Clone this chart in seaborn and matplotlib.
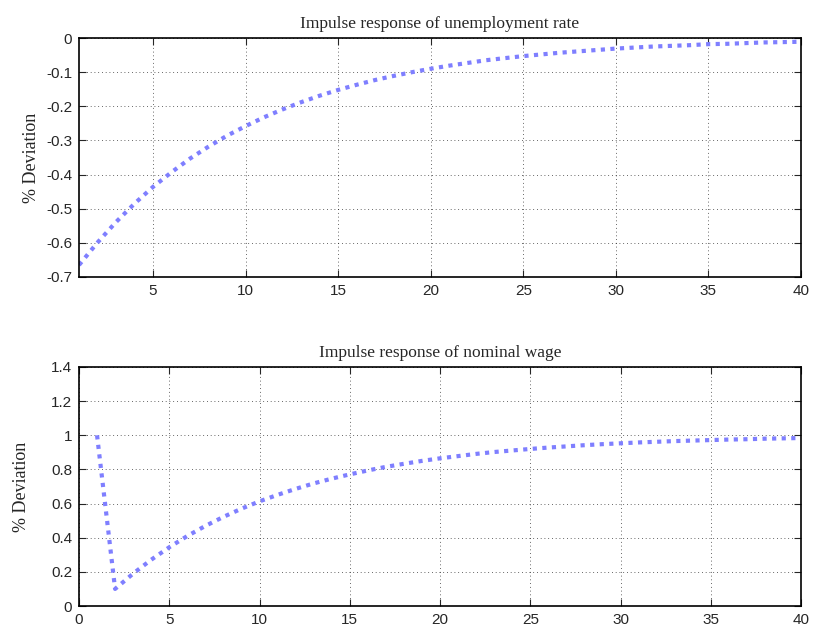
import matplotlib
matplotlib.use("Agg")
import matplotlib.pyplot as plt
import seaborn as sns
import pandas as pd

periods = list(range(1, 41))

unemployment = [
    -0.665, -0.599, -0.539, -0.485, -0.436, -0.393, -0.353, -0.318, -0.286, -0.258,
    -0.232, -0.209, -0.188, -0.169, -0.152, -0.137, -0.123, -0.111, -0.100, -0.090,
    -0.081, -0.073, -0.065, -0.059, -0.053, -0.048, -0.043, -0.039, -0.035, -0.031,
    -0.028, -0.025, -0.023, -0.021, -0.018, -0.017, -0.015, -0.013, -0.012, -0.011,
]

nominal_wage = [
    1.000, 0.100, 0.190, 0.271, 0.344, 0.410, 0.469, 0.522, 0.570, 0.613,
    0.651, 0.686, 0.718, 0.746, 0.771, 0.794, 0.815, 0.833, 0.850, 0.865,
    0.878, 0.891, 0.902, 0.911, 0.920, 0.928, 0.935, 0.942, 0.948, 0.953,
    0.958, 0.962, 0.966, 0.969, 0.972, 0.975, 0.977, 0.980, 0.982, 0.984,
]

titles = ["Impulse response of unemployment rate", "Impulse response of nominal wage"]
ylabel = "% Deviation"

top_xticks = [5, 10, 15, 20, 25, 30, 35, 40]
top_yticks = [0, -0.1, -0.2, -0.3, -0.4, -0.5, -0.6, -0.7]
bottom_xticks = [0, 5, 10, 15, 20, 25, 30, 35, 40]
bottom_yticks = [0, 0.2, 0.4, 0.6, 0.8, 1.0, 1.2, 1.4]

sns.set_style("white")
plt.rcParams["font.family"] = ["Liberation Sans", "DejaVu Sans"]

df = pd.DataFrame({"t": periods, "u": unemployment, "w": nominal_wage})

fig = plt.figure(figsize=(8.13, 6.33), dpi=100)
ax_top = fig.add_axes([79 / 813, 1 - 277 / 633, 722 / 813, 239 / 633])
ax_bot = fig.add_axes([79 / 813, 1 - 606 / 633, 722 / 813, 239 / 633])

line_color = "#7f7fff"


def style_axes(ax, title, xlim, ylim, xticks, yticks, label_x):
    ax.set_xlim(*xlim)
    ax.set_ylim(*ylim)
    ax.set_xticks(xticks)
    ax.set_yticks(yticks)
    ax.set_xticklabels([f"{v:g}" for v in xticks])
    ax.set_yticklabels([f"{v:g}" for v in yticks])
    ax.grid(True, color="black", linestyle=(0, (1, 3.5)), linewidth=0.6, alpha=0.8)
    ax.tick_params(direction="in", length=5, width=0.8, labelsize=11,
                   top=True, right=True, bottom=True, left=True, pad=5)
    for sp in ax.spines.values():
        sp.set_visible(True)
        sp.set_color("black")
        sp.set_linewidth(1.2)
    ax.set_title(title, family=["Liberation Serif", "DejaVu Serif"], fontsize=12.5, pad=7)
    ax.set_ylabel(ylabel, family=["Liberation Serif", "DejaVu Serif"], fontsize=13)
    ax.yaxis.set_label_coords(label_x, 0.5)
    ax.set_xlabel("")


line_kw = dict(color=line_color, linewidth=3.0, linestyle=(0, (1.0, 1.3)),
               solid_capstyle="butt", dash_capstyle="butt")
sns.lineplot(data=df, x="t", y="u", ax=ax_top, **line_kw)
sns.lineplot(data=df, x="t", y="w", ax=ax_bot, **line_kw)

style_axes(ax_top, titles[0], (1, 40), (-0.7, 0), top_xticks, top_yticks, -0.054)
style_axes(ax_bot, titles[1], (0, 40), (0, 1.4), bottom_xticks, bottom_yticks, -0.068)

fig.savefig("out.png", dpi=100, facecolor="white")
